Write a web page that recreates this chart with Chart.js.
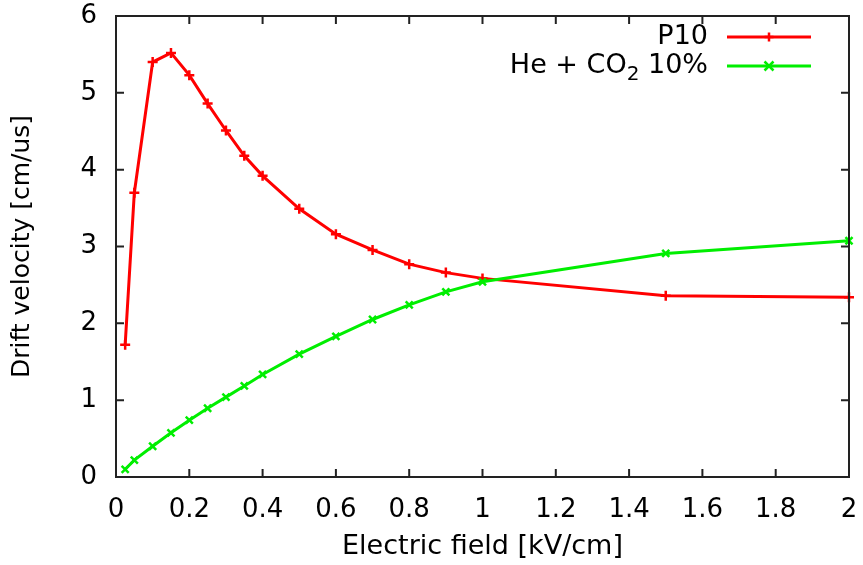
<!DOCTYPE html>
<html>
<head>
<meta charset="utf-8">
<script src="https://cdn.jsdelivr.net/npm/chart.js@4"></script>
<style>
html,body{margin:0;padding:0;background:#fff;}
#wrap{width:863px;height:565px;}
</style>
</head>
<body>
<div id="wrap"><canvas id="c" width="863" height="565"></canvas></div>
<script>
const fieldValues = [0.025, 0.05, 0.1, 0.15, 0.2, 0.25, 0.3, 0.35, 0.4, 0.5, 0.6, 0.7, 0.8, 0.9, 1.0, 1.5, 2.0];
const p10Velocity = [1.72, 3.70, 5.40, 5.52, 5.23, 4.86, 4.51, 4.18, 3.92, 3.49, 3.16, 2.955, 2.77, 2.66, 2.585, 2.36, 2.34];
const heCo2Velocity = [0.10, 0.22, 0.40, 0.575, 0.74, 0.895, 1.04, 1.185, 1.335, 1.60, 1.83, 2.05, 2.24, 2.41, 2.54, 2.91, 3.075];
const seriesLabels = ['P10', 'He + CO2 10%'];
const xTitle = 'Electric field [kV/cm]';
const yTitle = 'Drift velocity [cm/us]';

const RED = '#ff0000';
const GREEN = '#00ee00';
const FONT = '"DejaVu Sans", sans-serif';

function toPoints(xs, ys) { return xs.map((x, i) => ({x: x, y: ys[i]})); }
function fmt(v) { return String(Number(v.toFixed(1))); }

const frameTicks = {
  id: 'frameTicks',
  afterDraw(chart) {
    const ctx = chart.ctx, a = chart.chartArea;
    const xs = chart.scales.x, ys = chart.scales.y;
    const L = 8;
    ctx.save();
    ctx.strokeStyle = '#222';
    ctx.lineWidth = 2;
    ctx.beginPath();
    xs.ticks.forEach(t => {
      const px = xs.getPixelForValue(t.value);
      ctx.moveTo(px, a.bottom); ctx.lineTo(px, a.bottom - L);
      ctx.moveTo(px, a.top); ctx.lineTo(px, a.top + L);
    });
    ys.ticks.forEach(t => {
      const py = ys.getPixelForValue(t.value);
      ctx.moveTo(a.left, py); ctx.lineTo(a.left + L, py);
      ctx.moveTo(a.right, py); ctx.lineTo(a.right - L, py);
    });
    ctx.stroke();
    ctx.strokeRect(a.left, a.top, a.right - a.left, a.bottom - a.top);

    // legend
    const rows = [
      {label: seriesLabels[0], color: RED, style: 'plus'},
      {label: seriesLabels[1], color: GREEN, style: 'x'}
    ];
    const textRight = 708, lineL = 727, lineR = 811, mid = 769;
    const rowY = [37, 66];
    const fs = 27;
    ctx.fillStyle = '#000';
    ctx.textBaseline = 'middle';
    rows.forEach((r, i) => {
      const y = rowY[i];
      ctx.font = fs + 'px ' + FONT;
      ctx.textAlign = 'right';
      if (r.label.indexOf('CO2') >= 0) {
        const parts = r.label.split('CO2');
        const p1 = parts[0] + 'CO', p2 = parts[1];
        ctx.font = fs + 'px ' + FONT;
        const w3 = ctx.measureText(p2).width;
        ctx.font = Math.round(fs * 0.75) + 'px ' + FONT;
        const w2 = ctx.measureText('2').width;
        ctx.font = fs + 'px ' + FONT;
        ctx.fillText(p2, textRight, y);
        ctx.font = Math.round(fs * 0.75) + 'px ' + FONT;
        ctx.fillText('2', textRight - w3, y + 9);
        ctx.font = fs + 'px ' + FONT;
        ctx.fillText(p1, textRight - w3 - w2, y);
      } else {
        ctx.fillText(r.label, textRight, y);
      }
      ctx.strokeStyle = r.color;
      ctx.lineWidth = 3;
      ctx.beginPath();
      ctx.moveTo(lineL, y); ctx.lineTo(lineR, y);
      ctx.stroke();
      ctx.lineWidth = 2.5;
      ctx.beginPath();
      const s = 4.5;
      if (r.style === 'plus') {
        ctx.moveTo(mid - s, y); ctx.lineTo(mid + s, y);
        ctx.moveTo(mid, y - s); ctx.lineTo(mid, y + s);
      } else {
        ctx.moveTo(mid - s, y - s); ctx.lineTo(mid + s, y + s);
        ctx.moveTo(mid - s, y + s); ctx.lineTo(mid + s, y - s);
      }
      ctx.stroke();
    });
    ctx.restore();
  }
};

new Chart(document.getElementById('c'), {
  type: 'line',
  data: {
    datasets: [
      {
        label: seriesLabels[0],
        data: toPoints(fieldValues, p10Velocity),
        borderColor: RED, backgroundColor: RED,
        borderWidth: 3, tension: 0, fill: false,
        pointStyle: 'cross', pointRadius: 5, pointBorderWidth: 2.5,
        pointBorderColor: RED, clip: false, order: 2
      },
      {
        label: seriesLabels[1],
        data: toPoints(fieldValues, heCo2Velocity),
        borderColor: GREEN, backgroundColor: GREEN,
        borderWidth: 3, tension: 0, fill: false,
        pointStyle: 'crossRot', pointRadius: 5, pointBorderWidth: 2.5,
        pointBorderColor: GREEN, clip: false, order: 1
      }
    ]
  },
  options: {
    responsive: false,
    animation: false,
    events: [],
    layout: {padding: {top: 16, right: 14, left: 0, bottom: 0}},
    plugins: {legend: {display: false}, tooltip: {enabled: false}},
    scales: {
      x: {
        type: 'linear', min: 0, max: 2,
        grid: {display: false}, border: {display: false},
        ticks: {stepSize: 0.2, color: '#000', padding: 10, maxRotation: 0, autoSkip: false,
                font: {family: FONT, size: 26}, callback: v => fmt(v)},
        title: {display: true, text: xTitle, color: '#000', font: {family: FONT, size: 27},
                padding: {top: 0, bottom: 2}},
        afterFit(s) { s.height = 88; s.paddingLeft = 0; s.paddingRight = 0; }
      },
      y: {
        type: 'linear', min: 0, max: 6,
        grid: {display: false}, border: {display: false},
        ticks: {stepSize: 1, color: '#000', padding: 11, font: {family: FONT, size: 26},
                callback: v => fmt(v)},
        title: {display: true, text: yTitle, color: '#000', font: {family: FONT, size: 25},
                padding: {top: 7, bottom: 0}},
        afterFit(s) { s.width = 116; s.paddingTop = 0; s.paddingBottom = 0; }
      }
    }
  },
  plugins: [frameTicks]
});
</script>
</body>
</html>
